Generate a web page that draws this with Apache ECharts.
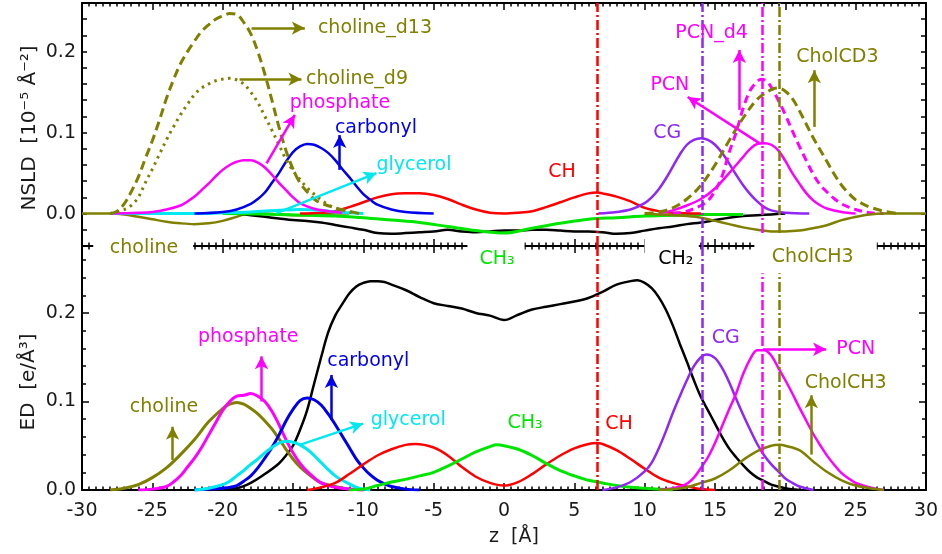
<!DOCTYPE html>
<html><head><meta charset="utf-8">
<script src="https://cdn.jsdelivr.net/npm/echarts@6.0.0/dist/echarts.min.js"></script>
<style>html,body{margin:0;padding:0;background:#fff}#c{width:942px;height:554px}</style>
</head><body><div id="c"></div>
<script>
// ---------- top panel (NSLD) ----------
const cholineD13Top = [[-28,0],[-27.5,0.003],[-27,0.012],[-26.5,0.027],[-26,0.045],[-25.5,0.068],[-25,0.09],[-24.5,0.115],[-24,0.142],[-23.5,0.165],[-23,0.185],[-22.5,0.2],[-22,0.213],[-21.5,0.225],[-21,0.233],[-20.5,0.24],[-20,0.244],[-19.5,0.247],[-19,0.246],[-18.5,0.236],[-18,0.222],[-17.5,0.2],[-17,0.172],[-16.5,0.14],[-16,0.107],[-15.5,0.078],[-15,0.055],[-14.5,0.038],[-14,0.027],[-13.5,0.018],[-13,0.013],[-12,0.007],[-11,0.003],[-10.3,0]];
const cholineD9Top = [[-28,0],[-27,0.005],[-26.5,0.01],[-26,0.02],[-25.5,0.038],[-25,0.055],[-24.5,0.073],[-24,0.091],[-23.5,0.107],[-23,0.122],[-22.5,0.135],[-22,0.147],[-21.5,0.155],[-21,0.16],[-20.5,0.164],[-20,0.166],[-19.5,0.167],[-19,0.165],[-18.5,0.16],[-18,0.15],[-17.5,0.137],[-17,0.12],[-16.5,0.103],[-16,0.085],[-15.5,0.067],[-15,0.053],[-14.5,0.042],[-14,0.032],[-13.5,0.024],[-13,0.017],[-12.5,0.011],[-12,0.007],[-11,0.002],[-10.5,0]];
const phosphateTop = [[-28,0],[-26,0.001],[-25,0.002],[-24,0.005],[-23,0.01],[-22.5,0.015],[-22,0.021],[-21.5,0.029],[-21,0.037],[-20.5,0.046],[-20,0.054],[-19.5,0.06],[-19,0.064],[-18.5,0.066],[-18,0.066],[-17.5,0.063],[-17,0.057],[-16.5,0.048],[-16,0.038],[-15.5,0.029],[-15,0.02],[-14.5,0.013],[-14,0.009],[-13.5,0.006],[-13,0.004],[-12,0.002],[-11.5,0.001]];
const carbonylTop = [[-22,0],[-20,0.002],[-19,0.005],[-18,0.012],[-17.5,0.018],[-17,0.026],[-16.5,0.038],[-16,0.05],[-15.5,0.064],[-15,0.076],[-14.5,0.083],[-14,0.086],[-13.5,0.085],[-13,0.081],[-12.5,0.075],[-12,0.066],[-11.5,0.055],[-11,0.045],[-10.5,0.034],[-10,0.024],[-9.5,0.017],[-9,0.011],[-8,0.005],[-7,0.002],[-5,0]];
const glycerolTop = [[-28,0],[-22,0],[-20,0.001],[-18,0.002],[-16,0.004],[-14.5,0.005],[-13,0.004],[-12,0.002],[-11,0.001],[-10,0]];
const chTop = [[-14.5,0],[-13,0.001],[-12,0.003],[-11,0.008],[-10,0.014],[-9,0.02],[-8,0.024],[-7,0.025],[-6.5,0.025],[-6,0.025],[-5,0.023],[-4,0.018],[-3,0.011],[-2,0.005],[-1,0.001],[0,0],[1,0.001],[2,0.003],[3,0.008],[4,0.014],[5,0.02],[6,0.025],[6.6,0.026],[7,0.025],[8,0.021],[9,0.015],[10,0.007],[11,0.003],[12,0.001],[14,0]];
const ch3Top = [[-20,0],[-16,-0.001],[-14,-0.002],[-12,-0.003],[-10,-0.005],[-8,-0.008],[-6,-0.011],[-4,-0.016],[-2,-0.021],[0,-0.024],[2,-0.018],[4,-0.012],[6,-0.007],[6.6,-0.006],[8,-0.005],[10,-0.003],[12,-0.002],[14,-0.001],[17,-0.001]];
const ch2Top = [[-19,0],[-18,-0.002],[-17,-0.004],[-16,-0.006],[-15,-0.008],[-14,-0.009],[-13,-0.011],[-12,-0.014],[-11,-0.017],[-10,-0.02],[-9,-0.024],[-8,-0.025],[-7,-0.024],[-6,-0.023],[-5,-0.022],[-4,-0.02],[-3,-0.022],[-2,-0.023],[-1,-0.022],[0,-0.021],[1,-0.021],[2,-0.02],[3,-0.02],[4,-0.021],[5,-0.022],[6,-0.022],[7,-0.023],[8,-0.025],[9,-0.024],[10,-0.021],[11,-0.018],[12,-0.016],[13,-0.013],[14,-0.011],[15,-0.008],[16,-0.005],[17,-0.003],[18,-0.002],[19,-0.001],[20,0]];
const cholineTop = [[-30,0],[-28,0],[-27,-0.001],[-26,-0.004],[-25,-0.007],[-24,-0.01],[-23,-0.012],[-22,-0.013],[-21,-0.012],[-20,-0.009],[-19,-0.004],[-18,0.001],[-17,0],[-16,-0.001],[-15,-0.002],[-14,-0.002],[-13,-0.001],[-12,0],[-11,0]];
const cgTop = [[6.7,0],[8,0.002],[9,0.005],[10,0.013],[10.5,0.02],[11,0.03],[11.5,0.043],[12,0.058],[12.5,0.073],[13,0.085],[13.5,0.091],[14,0.093],[14.5,0.091],[15,0.085],[15.5,0.075],[16,0.062],[16.5,0.048],[17,0.035],[17.5,0.024],[18,0.015],[18.5,0.008],[19,0.004],[20,0.001],[21.7,0]];
const pcnTop = [[11,0],[12,0.004],[13,0.01],[14,0.018],[15,0.031],[16,0.05],[17,0.07],[17.5,0.08],[18,0.086],[18.5,0.087],[19,0.085],[19.5,0.078],[20,0.065],[20.5,0.05],[21,0.037],[21.5,0.025],[22,0.016],[22.5,0.01],[23,0.006],[24,0.002],[25,0]];
const pcnD4Top = [[12,0],[13,0.003],[14,0.01],[14.5,0.016],[15,0.028],[15.5,0.046],[16,0.075],[16.5,0.1],[17,0.13],[17.5,0.152],[18,0.163],[18.3,0.166],[18.7,0.163],[19,0.156],[19.5,0.14],[20,0.122],[20.5,0.102],[21,0.083],[21.5,0.065],[22,0.048],[22.5,0.035],[23,0.026],[23.5,0.018],[24,0.012],[24.5,0.008],[25,0.005],[26,0.001],[27,0]];
const cholCD3Top = [[10,0],[11,0.002],[12,0.007],[13,0.018],[14,0.035],[15,0.06],[16,0.09],[17,0.118],[18,0.141],[19,0.153],[19.5,0.155],[20,0.151],[20.5,0.142],[21,0.127],[21.5,0.11],[22,0.093],[22.5,0.078],[23,0.063],[23.5,0.048],[24,0.035],[24.5,0.025],[25,0.017],[25.5,0.012],[26,0.008],[27,0.003],[28,0]];
const cholCH3Top = [[10,0],[11,-0.001],[12,-0.002],[13,-0.003],[14,-0.005],[15,-0.009],[16,-0.013],[17,-0.017],[18,-0.02],[19,-0.022],[20,-0.022],[21,-0.021],[22,-0.018],[23,-0.014],[24,-0.008],[25,-0.004],[26,-0.001],[27,0],[30,0]];

// ---------- bottom panel (ED) ----------
const ch2Bot = [[-21,0],[-20,0.001],[-19,0.002],[-18,0.008],[-17,0.018],[-16,0.03],[-15.5,0.039],[-15,0.05],[-14.5,0.068],[-14,0.09],[-13.5,0.12],[-13,0.15],[-12.5,0.178],[-12,0.197],[-11.5,0.21],[-11,0.222],[-10.5,0.23],[-10,0.234],[-9.5,0.236],[-9,0.236],[-8.5,0.235],[-8,0.232],[-7,0.226],[-6,0.218],[-5,0.211],[-4,0.208],[-3,0.205],[-2,0.2],[-1,0.197],[0,0.192],[1,0.198],[2,0.204],[3,0.207],[4,0.21],[5,0.213],[6,0.217],[7,0.224],[8,0.232],[9,0.236],[9.5,0.237],[10,0.234],[10.5,0.228],[11,0.218],[11.5,0.204],[12,0.186],[12.5,0.165],[13,0.145],[13.5,0.124],[14,0.105],[14.5,0.09],[15,0.075],[15.5,0.06],[16,0.047],[16.5,0.037],[17,0.028],[17.5,0.02],[18,0.014],[18.5,0.01],[19,0.006],[20,0.002],[21,0]];
const cholineBot = [[-28,0],[-27,0.002],[-26,0.006],[-25,0.014],[-24,0.025],[-23,0.04],[-22,0.057],[-21,0.077],[-20,0.092],[-19.5,0.097],[-19,0.099],[-18.5,0.097],[-18,0.092],[-17.5,0.086],[-17,0.078],[-16.5,0.069],[-16,0.058],[-15.5,0.046],[-15,0.035],[-14.5,0.026],[-14,0.019],[-13.5,0.013],[-13,0.008],[-12,0.004],[-11,0.001],[-10,0]];
const phosphateBot = [[-26,0],[-25,0.001],[-24,0.004],[-23.5,0.009],[-23,0.016],[-22.5,0.026],[-22,0.036],[-21.5,0.048],[-21,0.062],[-20.5,0.076],[-20,0.09],[-19.5,0.1],[-19,0.106],[-18.5,0.107],[-18,0.109],[-17.5,0.106],[-17,0.1],[-16.5,0.089],[-16,0.074],[-15.5,0.057],[-15,0.042],[-14.5,0.03],[-14,0.021],[-13.5,0.014],[-13,0.008],[-12.5,0.005],[-12,0.003],[-11,0.001],[-10,0]];
const carbonylBot = [[-22,0],[-21,0.001],[-20,0.002],[-19,0.005],[-18.5,0.01],[-18,0.016],[-17.5,0.025],[-17,0.036],[-16.5,0.048],[-16,0.062],[-15.5,0.078],[-15,0.091],[-14.5,0.101],[-14,0.104],[-13.5,0.102],[-13,0.096],[-12.5,0.086],[-12,0.074],[-11.5,0.061],[-11,0.048],[-10.5,0.035],[-10,0.025],[-9.5,0.017],[-9,0.011],[-8.5,0.007],[-8,0.004],[-7,0.001],[-6,0]];
const glycerolBot = [[-22,0],[-21,0.002],[-20,0.006],[-19.5,0.01],[-19,0.016],[-18.5,0.022],[-18,0.029],[-17.5,0.035],[-17,0.042],[-16.5,0.048],[-16,0.053],[-15.5,0.055],[-15,0.054],[-14.5,0.051],[-14,0.046],[-13.5,0.039],[-13,0.031],[-12.5,0.023],[-12,0.016],[-11.5,0.011],[-11,0.007],[-10.5,0.003],[-10,0.001],[-9.5,0]];
const chBot = [[-14,0],[-13,0.003],[-12,0.008],[-11,0.018],[-10,0.029],[-9,0.039],[-8,0.046],[-7,0.051],[-6.3,0.052],[-5,0.048],[-4,0.039],[-3,0.026],[-2,0.015],[-1,0.008],[0,0.005],[1,0.009],[2,0.018],[3,0.029],[4,0.039],[5,0.047],[6,0.052],[6.6,0.053],[7,0.052],[8,0.045],[9,0.035],[10,0.024],[11,0.014],[12,0.008],[13,0.004],[14,0.001],[15,0]];
const ch3Bot = [[-11,0],[-10,0.001],[-9,0.005],[-8,0.009],[-7,0.012],[-6,0.016],[-5,0.02],[-4,0.027],[-3,0.035],[-2,0.043],[-1,0.049],[-0.5,0.051],[0,0.05],[1,0.046],[2,0.039],[3,0.03],[4,0.022],[5,0.016],[6,0.011],[7,0.008],[8,0.005],[9,0.003],[10,0.002],[12,0]];
const cgBot = [[7,0],[8,0.003],[9,0.009],[10,0.021],[10.5,0.031],[11,0.047],[11.5,0.066],[12,0.087],[12.5,0.106],[13,0.124],[13.5,0.14],[14,0.15],[14.4,0.153],[15,0.149],[15.5,0.138],[16,0.122],[16.5,0.103],[17,0.085],[17.5,0.068],[18,0.052],[18.5,0.039],[19,0.029],[19.5,0.021],[20,0.013],[20.5,0.008],[21,0.004],[22,0]];
const pcnBot = [[11,0],[12,0.002],[12.5,0.004],[13,0.007],[13.5,0.014],[14,0.025],[14.5,0.037],[15,0.053],[15.5,0.072],[16,0.091],[16.5,0.109],[17,0.131],[17.5,0.148],[18,0.158],[18.5,0.158],[19,0.152],[19.5,0.138],[20,0.124],[20.5,0.109],[21,0.093],[21.5,0.078],[22,0.063],[22.5,0.05],[23,0.038],[23.5,0.028],[24,0.019],[24.5,0.013],[25,0.008],[26,0.003],[27,0]];
const cholCH3Bot = [[11,0],[12,0.001],[13,0.003],[14,0.008],[15,0.013],[16,0.022],[17,0.034],[18,0.044],[19,0.05],[19.6,0.051],[20,0.05],[21,0.045],[22,0.032],[23,0.02],[24,0.011],[25,0.005],[26,0.002],[27,0]];

// ---------- reference positions (z) ----------
const vLinesZ = { CH: 6.65, CG: 14.1, PCN: 18.35, CholCH3: 19.55 };
const xTicks = { min: -30, max: 30, step: 5 };
const topY = { min: -0.04, max: 0.26, step: 0.02 };
const botY = { min: 0, max: 0.2757, step: 0.1 };

// annotations: [text, z, value, colorKey, align]
const topLabels = [
  ['choline_d13', -13.23, 0.229, 'olive', 'left'],
  ['choline_d9', -14.08, 0.166, 'olive', 'left'],
  ['phosphate', -11.66, 0.1365, 'mag', 'center'],
  ['carbonyl', -9.1, 0.1057, 'blue', 'center'],
  ['glycerol', -6.4, 0.06, 'cyan', 'center'],
  ['CH', 4.12, 0.0514, 'red', 'center'],
  ['CG', 11.6, 0.0995, 'purple', 'center'],
  ['PCN', 11.79, 0.1588, 'mag', 'center'],
  ['PCN_d4', 14.75, 0.2226, 'mag', 'center'],
  ['CholCD3', 23.7, 0.1937, 'olive', 'center']
];
const botLabels = [
  ['choline', -24.17, 0.094, 'olive', 'center'],
  ['phosphate', -18.18, 0.173, 'mag', 'center'],
  ['carbonyl', -9.65, 0.1458, 'blue', 'center'],
  ['glycerol', -6.81, 0.079, 'cyan', 'center'],
  ['CH\u2083', 1.5, 0.0754, 'green', 'center'],
  ['CH', 8.17, 0.0746, 'red', 'center'],
  ['CG', 15.77, 0.1718, 'purple', 'center'],
  ['PCN', 25.0, 0.159, 'mag', 'center'],
  ['CholCH3', 24.29, 0.1206, 'olive', 'center']
];
const bandLabels = [
  ['choline', -25.59, 0.2734, 'olive'],
  ['CH\u2083', -0.5, 0.261, 'green'],
  ['CH\u2082', 12.22, 0.261, 'black'],
  ['CholCH3', 21.95, 0.263, 'olive']
];
const bandGaps = [[-29.2, -22.1], [-2.6, 1.46], [9.99, 13.85], [17.8, 26.5]];
const topArrows = [
  [[-17.95, 0.229], [-14.16, 0.229], 'olive'],
  [[-18.8, 0.166], [-14.4, 0.166], 'olive'],
  [[-16.88, 0.062], [-14.87, 0.122], 'mag'],
  [[-11.68, 0.054], [-11.68, 0.097], 'blue'],
  [[-16.17, 0.0005], [-9.07, 0.05], 'cyan'],
  [[16.73, 0.128], [16.73, 0.202], 'mag'],
  [[18.15, 0.087], [13.06, 0.144], 'mag'],
  [[22.06, 0.107], [22.06, 0.177], 'olive']
];
const botArrows = [
  [[-23.56, 0.034], [-23.56, 0.0715], 'olive'],
  [[-17.24, 0.1], [-17.24, 0.151], 'mag'],
  [[-12.27, 0.079], [-12.27, 0.13], 'blue'],
  [[-14.52, 0.051], [-10.02, 0.075], 'cyan'],
  [[18.4, 0.159], [22.9, 0.159], 'mag'],
  [[21.85, 0.04], [21.85, 0.107], 'olive']
];

const C = { olive: '#808000', mag: '#ff00ff', blue: '#0000ee', cyan: '#00e8f0', red: '#ff0000', green: '#00e600', purple: '#8f27f5', black: '#000000' };
const FONT = '"DejaVu Sans", "Liberation Sans", Arial, sans-serif';

function ser(data, color, g, width, type, extra) {
  return Object.assign({
    type: 'line', data: data, xAxisIndex: g ? 2 : 0, yAxisIndex: g ? 2 : 0,
    symbol: 'none', smooth: 0.35, silent: true, animation: false,
    lineStyle: { color: color, width: width, type: type || 'solid', cap: 'butt' },
    itemStyle: { color: color }, emphasis: { disabled: true }
  }, extra || {});
}
function arrowsML(list) {
  return list.map(a => [
    { coord: a[0], symbol: 'none', lineStyle: { color: C[a[2]], width: 2.5, type: 'solid' } },
    { coord: a[1], symbol: 'arrow', symbolSize: [10, 13], itemStyle: { color: C[a[2]] } }
  ]);
}
const dd = [10, 3, 2, 3];
const topML = [
  { xAxis: vLinesZ.CH, lineStyle: { color: C.red, width: 2.5, type: dd } },
  { xAxis: vLinesZ.CG, lineStyle: { color: C.purple, width: 2.5, type: dd } },
  [{ coord: [vLinesZ.PCN, -0.024], lineStyle: { color: C.mag, width: 2.5, type: dd } }, { coord: [vLinesZ.PCN, topY.max] }],
  [{ coord: [vLinesZ.CholCH3, -0.024], lineStyle: { color: C.olive, width: 2.5, type: dd } }, { coord: [vLinesZ.CholCH3, topY.max] }]
].concat(arrowsML(topArrows));
const botML = [
  { xAxis: vLinesZ.CH, lineStyle: { color: C.red, width: 2.5, type: dd } },
  { xAxis: vLinesZ.CG, lineStyle: { color: C.purple, width: 2.5, type: dd } },
  [{ coord: [vLinesZ.PCN, 0], lineStyle: { color: C.mag, width: 2.5, type: dd } }, { coord: [vLinesZ.PCN, 0.245] }],
  [{ coord: [vLinesZ.CholCH3, 0], lineStyle: { color: C.olive, width: 2.5, type: dd } }, { coord: [vLinesZ.CholCH3, 0.245] }]
].concat(arrowsML(botArrows));
function ml(data) {
  return { markLine: { silent: true, animation: false, symbol: ['none', 'none'], label: { show: false }, emphasis: { disabled: true }, data: data } };
}

const axisLine = { show: true, onZero: false, lineStyle: { color: '#000', width: 2 } };
function xAx(grid, pos, labels) {
  return {
    type: 'value', gridIndex: grid, position: pos, min: xTicks.min, max: xTicks.max, interval: xTicks.step,
    axisLine: axisLine, splitLine: { show: false },
    axisTick: { show: true, inside: true, length: 7, lineStyle: { color: '#000', width: 1.5 } },
    minorTick: { show: true, splitNumber: 10, length: 3.5, lineStyle: { color: '#000', width: 1.5 } },
    axisLabel: { show: labels, color: '#1a1a1a', fontSize: 19, fontFamily: FONT, margin: 12 }
  };
}
function fmt1(v) { return Math.abs(v * 10 - Math.round(v * 10)) < 1e-6 ? (Math.round(v * 10) / 10).toFixed(1) : ''; }
function yAx(grid, pos, labels, r) {
  return {
    type: 'value', gridIndex: grid, position: pos, min: r.min, max: r.max, interval: r.step,
    axisLine: axisLine, splitLine: { show: false },
    axisTick: { show: true, inside: true, length: r.step < 0.05 ? 5 : 7, lineStyle: { color: '#000', width: 1.5 } },
    minorTick: { show: r.step >= 0.05, splitNumber: 5, length: 4, lineStyle: { color: '#000', width: 1.5 } },
    axisLabel: { show: labels, color: '#1a1a1a', fontSize: 19, fontFamily: FONT, margin: 6, formatter: fmt1, showMaxLabel: r.step < 0.05 }
  };
}

const chart = echarts.init(document.getElementById('c'), null, { renderer: 'canvas' });
chart.setOption({
  animation: false,
  backgroundColor: '#fff',
  grid: [
    { left: 82, right: 16, top: 3, height: 243 },
    { left: 82, right: 16, top: 246, height: 244 }
  ],
  xAxis: [xAx(0, 'bottom', false), xAx(0, 'top', false), xAx(1, 'bottom', true), xAx(1, 'top', false)],
  yAxis: [yAx(0, 'left', true, topY), yAx(0, 'right', false, topY), yAx(1, 'left', true, botY), yAx(1, 'right', false, botY)],
  series: [
    ser(cholineTop, C.olive, 0, 2.5),
    ser(ch2Top, C.black, 0, 2.5, 'solid', ml(topML)),
    ser(ch3Top, C.green, 0, 3),
    ser(chTop, C.red, 0, 2.5),
    ser(glycerolTop, C.cyan, 0, 3),
    ser(carbonylTop, C.blue, 0, 2.5),
    ser(phosphateTop, C.mag, 0, 2.5),
    ser(cholineD9Top, C.olive, 0, 3, [2.5, 4.5]),
    ser(cholineD13Top, C.olive, 0, 3, [9, 5]),
    ser(cgTop, C.purple, 0, 2.5),
    ser(pcnTop, C.mag, 0, 2.5),
    ser(pcnD4Top, C.mag, 0, 3, [8, 5]),
    ser(cholCD3Top, C.olive, 0, 3, [9, 5]),
    ser(cholCH3Top, C.olive, 0, 2.5),
    ser(ch2Bot, C.black, 1, 2.5, 'solid', ml(botML)),
    ser(cholineBot, C.olive, 1, 3),
    ser(phosphateBot, C.mag, 1, 3),
    ser(carbonylBot, C.blue, 1, 3),
    ser(glycerolBot, C.cyan, 1, 3),
    ser(chBot, C.red, 1, 2.5),
    ser(ch3Bot, C.green, 1, 3),
    ser(cgBot, C.purple, 1, 2.5),
    ser(pcnBot, C.mag, 1, 2.5),
    ser(cholCH3Bot, C.olive, 1, 2.5)
  ]
});

function px(g, z, v) {
  return chart.convertToPixel(g ? { xAxisIndex: 2, yAxisIndex: 2 } : { xAxisIndex: 0, yAxisIndex: 0 }, [z, v]);
}
function txt(text, p, color, align, size, extra) {
  return Object.assign({
    type: 'text', x: p[0], y: p[1], z: 101, silent: true,
    style: { text: text, fill: color, font: (size || 19) + 'px ' + FONT, align: align || 'center', verticalAlign: 'middle', textAlign: align || 'center', textVerticalAlign: 'middle' }
  }, extra || {});
}
const gfx = [];
const bandY = px(0, 0, topY.min)[1];
bandGaps.forEach(g => {
  const a = px(0, g[0], 0)[0], b = px(0, g[1], 0)[0];
  gfx.push({ type: 'rect', z: 100, silent: true, shape: { x: a, y: bandY - 9, width: b - a, height: 18 }, style: { fill: '#fff' } });
});
topLabels.forEach(l => gfx.push(txt(l[0], px(0, l[1], l[2]), C[l[3]], l[4])));
botLabels.forEach(l => gfx.push(txt(l[0], px(1, l[1], l[2]), C[l[3]], l[4])));
bandLabels.forEach(l => gfx.push(txt(l[0], px(1, l[1], l[2]), C[l[3]], 'center')));
// axis titles
gfx.push(txt('NSLD  [10\u207B\u2075 \u00C5\u207B\u00B2]', [30, 128], '#1a1a1a', 'center', 20, { rotation: Math.PI / 2 }));
gfx.push(txt('ED  [e/\u00C5\u00B3]', [29, 382], '#1a1a1a', 'center', 20, { rotation: Math.PI / 2 }));
gfx.push(txt('z  [\u00C5]', [514, 537], '#1a1a1a', 'center', 19));
chart.setOption({ graphic: { elements: gfx } });
</script></body></html>
